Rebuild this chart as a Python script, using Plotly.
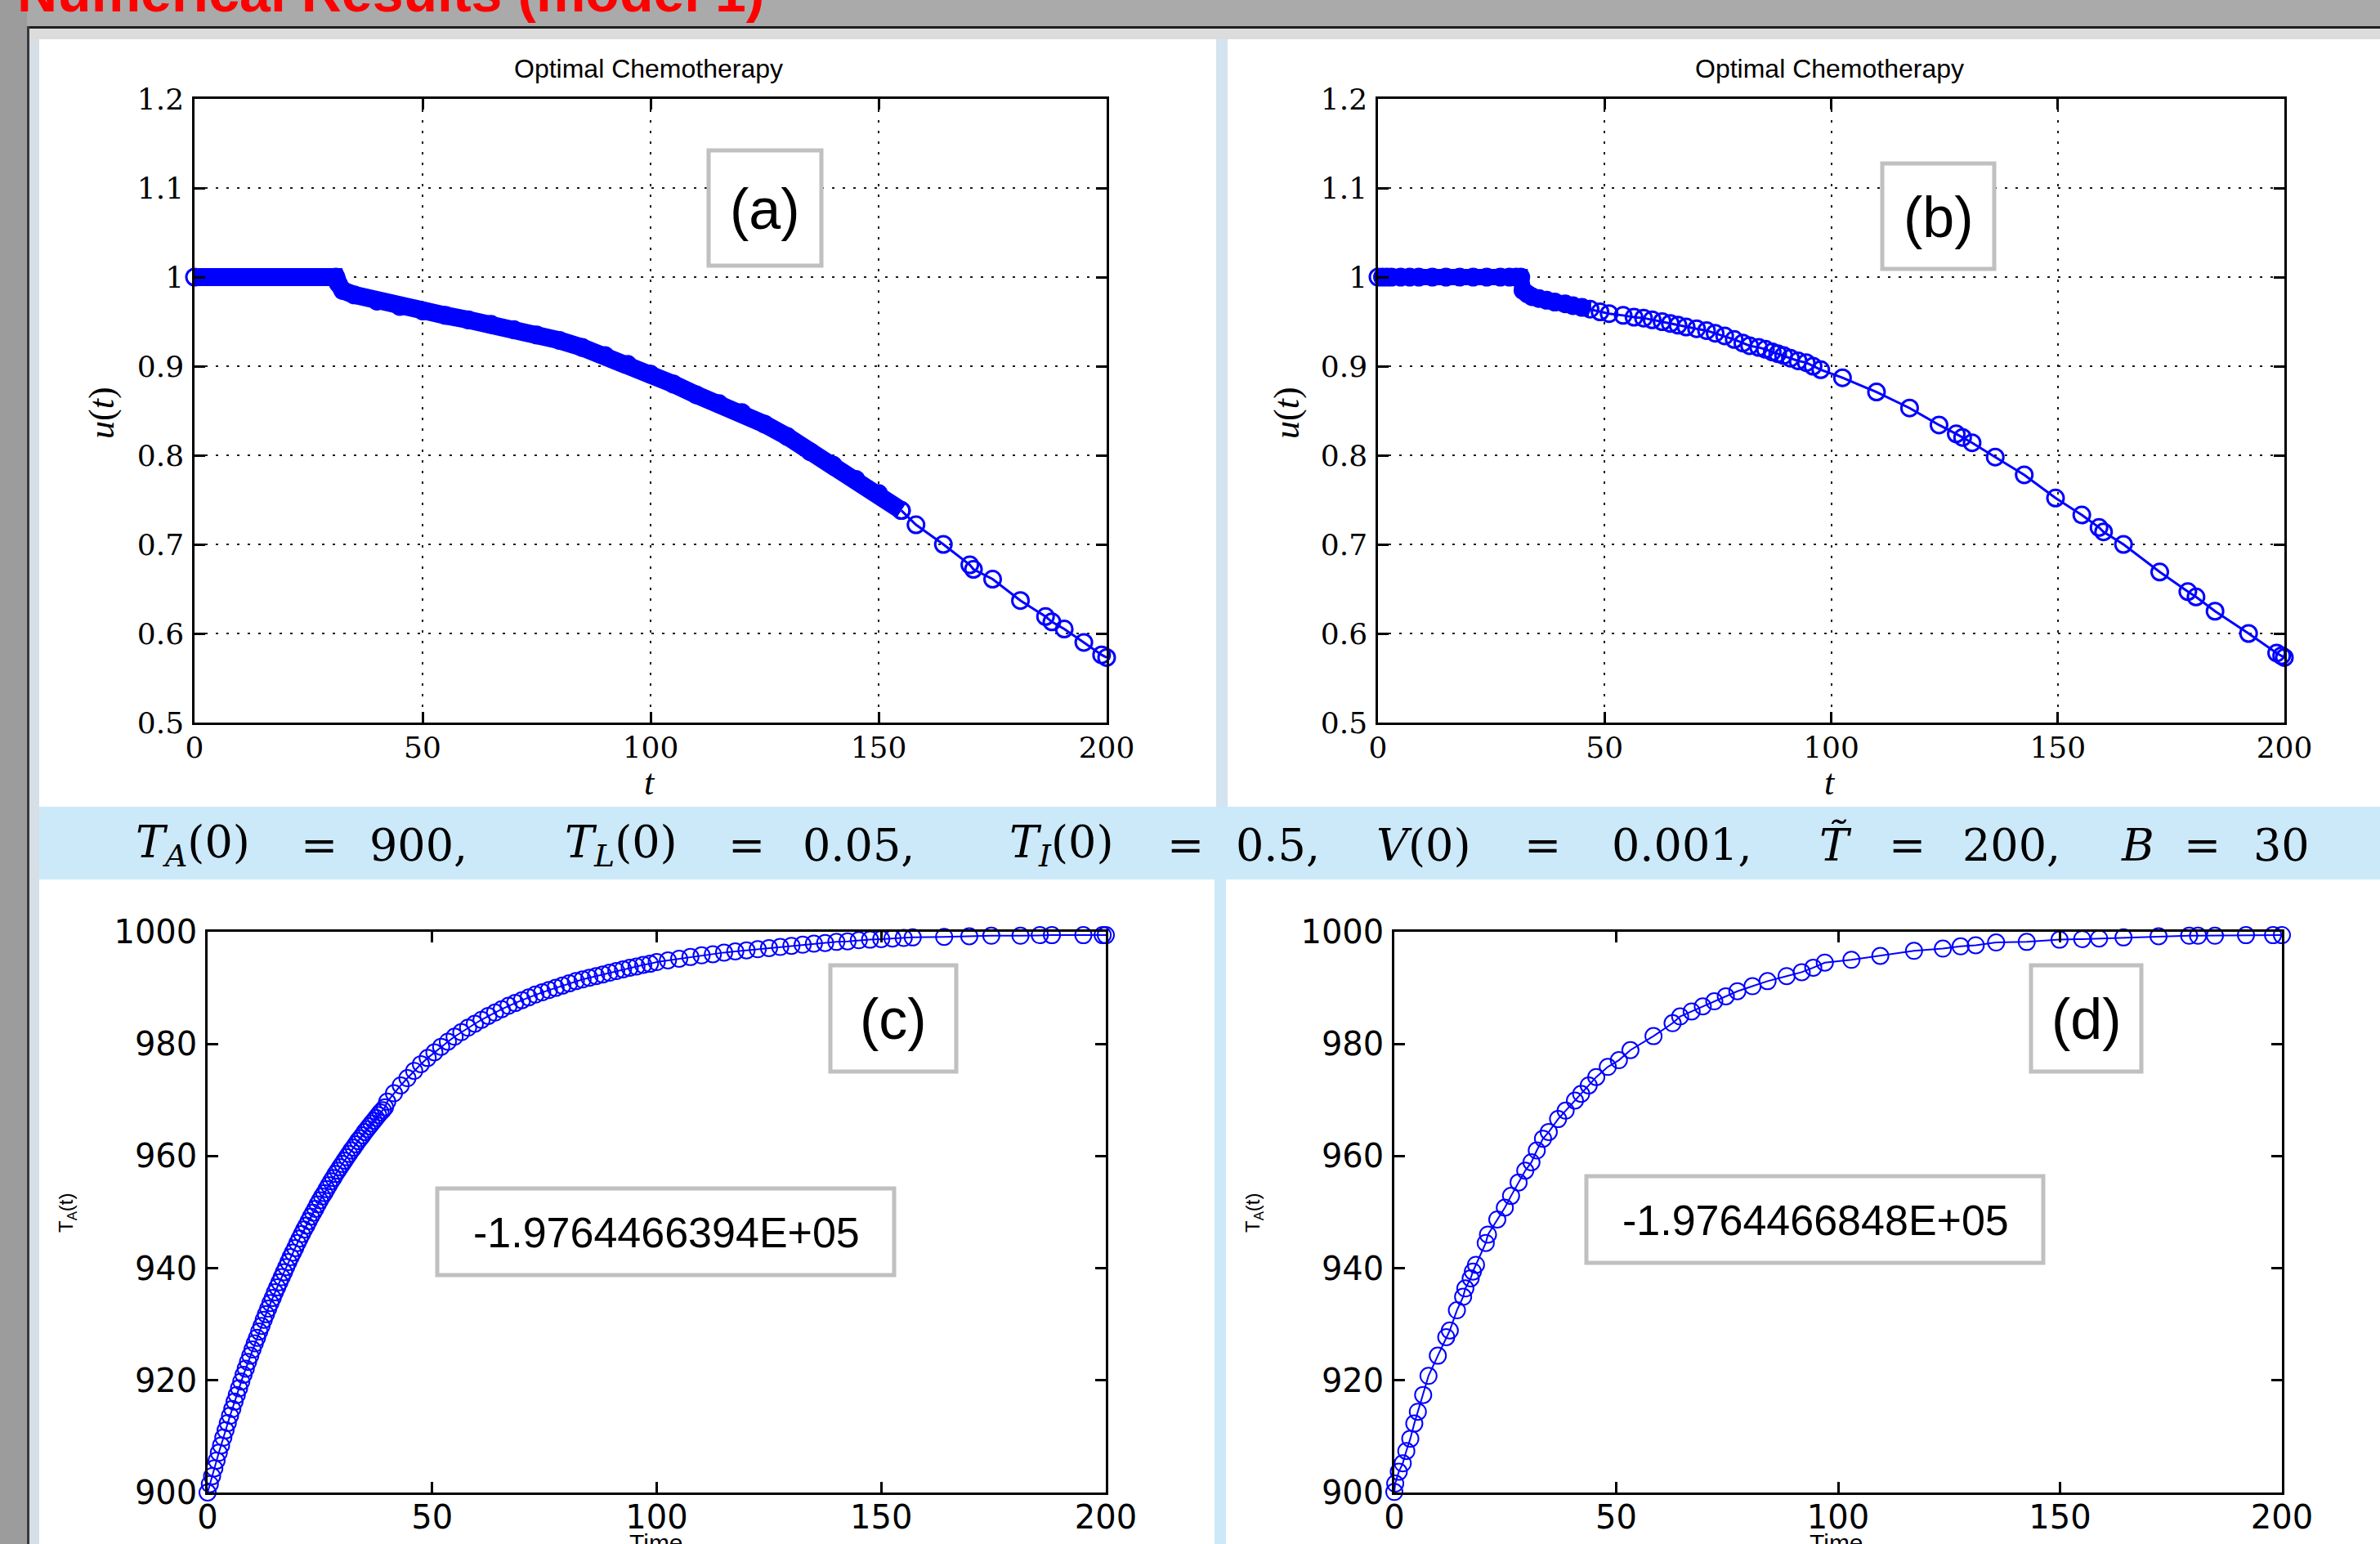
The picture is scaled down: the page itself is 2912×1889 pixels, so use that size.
import plotly.graph_objects as go

W, H = 2912, 1889

# ---------------- data ----------------
# panel (a): u(t), dense part (drawn as a thick band of markers) and sparse part
A_BAND_T = [0, 31, 31.5, 32.5, 35, 40, 45, 50, 55, 60, 65, 70, 75, 80, 85, 90, 95, 100,
            105, 110, 115, 120, 125, 130, 135, 140, 145, 150, 155]
A_BAND_U = [1.0, 1.0, 0.993, 0.985, 0.980, 0.973, 0.967, 0.962, 0.957, 0.952, 0.947, 0.941,
            0.935, 0.929, 0.921, 0.912, 0.902, 0.891, 0.880, 0.868, 0.858, 0.848, 0.835,
            0.821, 0.804, 0.789, 0.773, 0.757, 0.738]
A_SPARSE_T = [155, 158.2, 164.2, 170, 170.8, 175, 181.1, 186.6, 188, 190.7, 195, 198.9, 200]
A_SPARSE_U = [0.738, 0.722, 0.700, 0.677, 0.672, 0.661, 0.637, 0.619, 0.613, 0.605, 0.590,
              0.576, 0.573]

# panel (b): u(t)
B_BAND_T = [0, 31.5, 32, 34, 37.2, 41.3, 46.8]
B_BAND_U = [1.0, 1.0, 0.985, 0.978, 0.974, 0.970, 0.964]
B_T = [0, 1, 2, 3, 5, 7, 9, 12, 15, 18, 21, 24, 27, 29, 30.5, 31.5, 32, 33, 34, 35.5, 37.2,
       39, 41.3, 43, 45, 46.8, 49, 51, 54.1, 56.5, 58.6, 60.5, 62.7, 64.5, 66.2, 68, 70.3,
       72.5, 74.4, 76.5, 78.6, 80.5, 82, 84, 85.5, 87, 88.2, 89.5, 91, 92.7, 94.5, 96, 97.7,
       102.5, 110, 117.3, 123.8, 127.6, 129, 131.1, 136.2, 142.6, 149.5, 155.3, 159.1, 160.1,
       164.5, 172.5, 178.7, 180.5, 184.7, 192.1, 198.3, 199.4, 200]
B_U = [1.0, 1.0, 1.0, 1.0, 1.0, 1.0, 1.0, 1.0, 1.0, 1.0, 1.0, 1.0, 1.0, 1.0, 1.0, 1.0, 0.985,
       0.981, 0.978, 0.976, 0.974, 0.972, 0.970, 0.968, 0.966, 0.964, 0.961, 0.959, 0.957,
       0.955, 0.954, 0.952, 0.950, 0.948, 0.946, 0.944, 0.942, 0.940, 0.937, 0.934, 0.930,
       0.926, 0.923, 0.921, 0.919, 0.916, 0.914, 0.912, 0.909, 0.906, 0.904, 0.900, 0.896,
       0.887, 0.871, 0.853, 0.834, 0.824, 0.820, 0.814, 0.798, 0.778, 0.752, 0.733, 0.719,
       0.714, 0.700, 0.669, 0.647, 0.641, 0.625, 0.600, 0.578, 0.575, 0.573]

# panel (c): T_A(t)  (dense solver output)
C_T = [0, 0.5, 1, 1.5, 2, 2.5, 3, 3.5, 4, 4.5, 5, 5.5, 6, 6.5, 7, 7.5, 8, 8.5, 9, 9.5,
       10, 10.5, 11, 11.5, 12, 12.5, 13, 13.5, 14, 14.5, 15, 15.5, 16, 16.5, 17, 17.5, 18,
       18.5, 19, 19.5, 20, 20.5, 21, 21.5, 22, 22.5, 23, 23.5, 24, 24.5, 25, 25.5, 26, 26.5,
       27, 27.5, 28, 28.5, 29, 29.5, 30, 30.5, 31, 31.5, 32, 32.5, 33, 33.5, 34, 34.5, 35,
       35.5, 36, 36.5, 37, 37.5, 38, 38.5, 39, 39.5, 40, 41.5, 43, 44.5, 46, 47.5, 49, 50.5,
       52, 53.5, 55, 56.5, 58, 59.5, 61, 62.5, 64, 65.5, 67, 68.5, 70, 71.5, 73, 74.5, 76,
       77.5, 79, 80.5, 82, 83.5, 85, 86.5, 88, 89.5, 91, 92.5, 94, 95.5, 97, 98.5, 100,
       102.5, 105, 107.5, 110, 112.5, 115, 117.5, 120, 122.5, 125, 127.5, 130, 132.5, 135,
       137.5, 140, 142.5, 145, 147.5, 150, 152.5, 155, 157, 164, 169.6, 174.5, 181, 185.3,
       188, 195, 199.3, 200]
C_V = [900.0, 901.5, 902.9, 904.3, 905.7, 907.1, 908.4, 909.8, 911.1, 912.4, 913.7, 914.9,
       916.2, 917.4, 918.6, 919.8, 921.0, 922.1, 923.3, 924.4, 925.5, 926.6, 927.6, 928.7,
       929.7, 930.8, 931.8, 932.8, 933.8, 934.7, 935.7, 936.6, 937.5, 938.4, 939.3, 940.2,
       941.1, 942.0, 942.8, 943.6, 944.5, 945.3, 946.1, 946.9, 947.6, 948.4, 949.2, 949.9,
       950.6, 951.4, 952.1, 952.8, 953.4, 954.1, 954.8, 955.5, 956.1, 956.8, 957.4, 958.0,
       958.6, 959.2, 959.8, 960.4, 961.0, 961.5, 962.1, 962.7, 963.2, 963.7, 964.3, 964.8,
       965.3, 965.8, 966.3, 966.8, 967.3, 967.8, 968.2, 968.7, 969.7, 971.2, 972.6, 973.9,
       975.2, 976.4, 977.5, 978.5, 979.5, 980.4, 981.3, 982.1, 982.9, 983.6, 984.3, 985.0,
       985.6, 986.2, 986.8, 987.3, 987.8, 988.3, 988.8, 989.2, 989.6, 990.0, 990.4, 990.8,
       991.2, 991.5, 991.8, 992.1, 992.4, 992.7, 993.0, 993.3, 993.6, 993.8, 994.1, 994.3,
       994.6, 994.9, 995.2, 995.5, 995.8, 996.0, 996.3, 996.5, 996.7, 996.9, 997.1, 997.3,
       997.5, 997.7, 997.9, 998.0, 998.2, 998.3, 998.5, 998.6, 998.7, 998.8, 998.9, 999.0,
       999.1, 999.2, 999.3, 999.3, 999.4, 999.4, 999.4, 999.4, 999.4]

# panel (d): T_A(t)
D_T = [0, 0.2, 1, 1.9, 2.7, 3.6, 4.5, 5.3, 6.5, 7.7, 9.8, 11.7, 12.5, 14.1, 15.5, 16, 17.2,
       17.7, 18.4, 20.6, 21.1, 23.2, 24.9, 26.3, 28, 29.5, 30.9, 32.1, 33.5, 34.8, 36.9, 38.6,
       40.7, 42.1, 43.8, 45.5, 48.1, 50.6, 53.2, 58.4, 62.7, 64.4, 67, 69.5, 72.1, 74.7, 77.3,
       80.7, 84.1, 88.4, 91.8, 94.4, 97, 103, 109.5, 117.1, 123.6, 127.6, 131, 135.6, 142.5,
       149.9, 155, 158.8, 164.3, 172.2, 179.1, 181.1, 184.9, 191.9, 198, 200]
D_V = [900.1, 901.6, 903.7, 905.2, 907.4, 909.6, 912.3, 914.4, 917.4, 920.8, 924.4, 927.7,
       928.9, 932.5, 934.9, 936.4, 938.2, 939.4, 940.6, 944.5, 946.0, 948.7, 950.8, 952.9,
       955.3, 957.4, 958.9, 961.0, 963.1, 964.3, 966.6, 968.1, 969.9, 971.1, 972.6, 974.1,
       975.9, 977.1, 978.9, 981.4, 983.7, 984.9, 985.8, 986.7, 987.6, 988.5, 989.4, 990.3,
       991.2, 992.1, 992.8, 993.6, 994.5, 995.0, 995.7, 996.6, 997.0, 997.4, 997.6, 998.1,
       998.2, 998.6, 998.7, 998.8, 999.0, 999.2, 999.3, 999.3, 999.3, 999.4, 999.4, 999.4]

U_TICKS = [0.5, 0.6, 0.7, 0.8, 0.9, 1.0, 1.1, 1.2]
U_TICKTEXT = ["0.5", "0.6", "0.7", "0.8", "0.9", "1", "1.1", "1.2"]
T_TICKS = [0, 50, 100, 150, 200]
TA_TICKS = [900, 920, 940, 960, 980, 1000]

COST_C = "-1.9764466394E+05"
COST_D = "-1.9764466848E+05"
TITLE = "Optimal Chemotherapy"

BLUE = "#0000ff"
SERIF = "DejaVu Serif"
LSERIF = "Liberation Serif"
SANS = "Liberation Sans"
DSANS = "DejaVu Sans"


def px(x):
    return x / W


def py(y):
    return 1 - y / H


fig = go.Figure()

# ---- traces ----
# (a)
fig.add_trace(go.Scatter(x=A_BAND_T, y=A_BAND_U, xaxis="x", yaxis="y", mode="lines+markers",
                         line=dict(color=BLUE, width=22),
                         marker=dict(symbol="circle-open", size=20, color=BLUE, line=dict(width=3)),
                         cliponaxis=False, showlegend=False))
fig.add_trace(go.Scatter(x=A_SPARSE_T, y=A_SPARSE_U, xaxis="x", yaxis="y", mode="lines+markers",
                         line=dict(color=BLUE, width=3),
                         marker=dict(symbol="circle-open", size=20, color=BLUE, line=dict(width=3)),
                         cliponaxis=False, showlegend=False))
# (b)
fig.add_trace(go.Scatter(x=B_BAND_T, y=B_BAND_U, xaxis="x2", yaxis="y2", mode="lines",
                         line=dict(color=BLUE, width=20), showlegend=False))
fig.add_trace(go.Scatter(x=B_T, y=B_U, xaxis="x2", yaxis="y2", mode="lines+markers",
                         line=dict(color=BLUE, width=3),
                         marker=dict(symbol="circle-open", size=20, color=BLUE, line=dict(width=3)),
                         cliponaxis=False, showlegend=False))
# (c)
fig.add_trace(go.Scatter(x=C_T, y=C_V, xaxis="x3", yaxis="y3", mode="lines+markers",
                         line=dict(color=BLUE, width=2),
                         marker=dict(symbol="circle-open", size=20, color=BLUE, line=dict(width=2)),
                         cliponaxis=False, showlegend=False))
# (d)
fig.add_trace(go.Scatter(x=D_T, y=D_V, xaxis="x4", yaxis="y4", mode="lines+markers",
                         line=dict(color=BLUE, width=2),
                         marker=dict(symbol="circle-open", size=20, color=BLUE, line=dict(width=2)),
                         cliponaxis=False, showlegend=False))


def ax(domain, rng, tickvals, ticktext, anchor, family, size, grid, standoff):
    d = dict(domain=domain, range=rng, anchor=anchor, tickmode="array", tickvals=tickvals,
             ticktext=ticktext, showline=True, linecolor="black", linewidth=2.5,
             mirror="ticks", ticks="inside", ticklen=13, tickwidth=2.5, tickcolor="black",
             zeroline=False, showgrid=grid, tickfont=dict(family=family, size=size, color="black"),
             ticklabelstandoff=standoff, fixedrange=True, automargin=False)
    if grid:
        d.update(gridcolor="#1a1a1a", gridwidth=2, griddash="3px,10px")
    return d


tt = [str(v) for v in T_TICKS]
layout = dict(
    width=W, height=H, autosize=False,
    margin=dict(l=0, r=0, t=0, b=0, pad=0, autoexpand=False),
    paper_bgcolor="#cce9f9", plot_bgcolor="white",
    xaxis=ax([px(238), px(1354)], [0, 200], T_TICKS, tt, "y", SERIF, 36, True, -3),
    yaxis=ax([py(884), py(121)], [0.5, 1.2], U_TICKS, U_TICKTEXT, "x", SERIF, 36, True, 3),
    xaxis2=ax([px(1686), px(2795)], [0, 200], T_TICKS, tt, "y2", SERIF, 36, True, -3),
    yaxis2=ax([py(884), py(121)], [0.5, 1.2], U_TICKS, U_TICKTEXT, "x2", SERIF, 36, True, 3),
    xaxis3=ax([px(254), px(1353)], [0, 200], T_TICKS, tt, "y3", DSANS, 40, False, -7),
    yaxis3=ax([py(1826), py(1140)], [900, 1000], TA_TICKS, [str(v) for v in TA_TICKS], "x3",
              DSANS, 40, False, 2),
    xaxis4=ax([px(1706), px(2792)], [0, 200], T_TICKS, tt, "y4", DSANS, 40, False, -7),
    yaxis4=ax([py(1826), py(1140)], [900, 1000], TA_TICKS, [str(v) for v in TA_TICKS], "x4",
              DSANS, 40, False, 2),
)


def rect(x0, y0, x1, y1, fill, line=None, lw=0, layer="below"):
    return dict(type="rect", xref="paper", yref="paper", x0=px(x0), x1=px(x1), y0=py(y1), y1=py(y0),
                fillcolor=fill, line=dict(color=line or fill, width=lw), layer=layer)


shapes = [
    rect(0, 0, W, 32, "#aaaaaa"),
    rect(0, 0, 33, H, "#9c9c9c"),
    rect(33, 32, W, 35, "#1e1e1e"),
    rect(33, 32, 36, H, "#3a3a3a"),
    rect(36, 35, W, 48, "#dcdcdc"),
    rect(36, 48, 48, H, "#d6dee6"),
    rect(1488, 48, 1502, 987, "#d3e3ef"),
    rect(48, 48, 1488, 987, "white"),
    rect(1502, 48, W, 987, "white"),
    rect(48, 1076, 1486, H, "white"),
    rect(1500, 1076, W, H, "white"),
    # label boxes
    rect(867, 184, 1005, 325, "white", "#c0c0c0", 5, "above"),
    rect(2303, 200, 2440, 329, "white", "#c0c0c0", 5, "above"),
    rect(1016, 1181, 1170, 1311, "white", "#c0c0c0", 5, "above"),
    rect(2485, 1181, 2620, 1311, "white", "#c0c0c0", 5, "above"),
    rect(535, 1454, 1094, 1560, "white", "#c0c0c0", 5, "above"),
    rect(1941, 1439, 2500, 1545, "white", "#c0c0c0", 5, "above"),
]


def ann(text, x, y, size, family, color="black", xanchor="center", yanchor="middle", angle=0):
    return dict(text=text, x=px(x), y=py(y), xref="paper", yref="paper", showarrow=False,
                font=dict(size=size, family=family, color=color), xanchor=xanchor,
                yanchor=yanchor, textangle=angle)


annotations = [
    ann("<b>Numerical Results (model 1)</b>", 19, 30, 68, SANS, "#ff0000", "left", "bottom"),
    ann(TITLE, 794, 84, 32, SANS),
    ann(TITLE, 2238, 84, 32, SANS),
    ann("<i>t</i>", 795, 958, 44, LSERIF),
    ann("<i>t</i>", 2239, 958, 44, LSERIF),
    ann("<i>u</i>(<i>t</i>)", 125, 505, 44, LSERIF, angle=-90),
    ann("<i>u</i>(<i>t</i>)", 1575, 505, 44, LSERIF, angle=-90),
    ann("(a)", 936, 256, 70, SANS),
    ann("(b)", 2372, 266, 70, SANS),
    ann("(c)", 1093, 1247, 70, SANS),
    ann("(d)", 2553, 1247, 70, SANS),
    ann(COST_C, 815, 1508, 52, SANS),
    ann(COST_D, 2221, 1493, 52, SANS),
    ann("T<sub>A</sub>(t)", 82, 1484, 24, SANS, angle=-90),
    ann("T<sub>A</sub>(t)", 1534, 1484, 24, SANS, angle=-90),
    ann("Time", 803, 1869, 30, SANS, yanchor="top"),
    ann("Time", 2247, 1869, 30, SANS, yanchor="top"),
]

# formula in the blue band, placed piece by piece
FORMULA = [
    ("<i>T</i><sub><i>A</i></sub>(0)", 236), ("=", 390), ("900,", 512),
    ("<i>T</i><sub><i>L</i></sub>(0)", 760), ("=", 913), ("0.05,", 1050),
    ("<i>T</i><sub><i>I</i></sub>(0)", 1298), ("=", 1450), ("0.5,", 1563),
    ("<i>V</i>(0)", 1742), ("=", 1887), ("0.001,", 2058),
    ("<i>T\u0303</i>", 2246), ("=", 2333), ("200,", 2461),
    ("<i>B</i>", 2615), ("=", 2694), ("30", 2791),
]
for txt, xc in FORMULA:
    annotations.append(ann(txt, xc, 1034, 54, SERIF))

layout["shapes"] = shapes
layout["annotations"] = annotations
fig.update_layout(**layout)

fig.write_html("out.html", config={"displayModeBar": False},
               post_script="document.body.style.margin='0';document.body.style.overflow='hidden';")
